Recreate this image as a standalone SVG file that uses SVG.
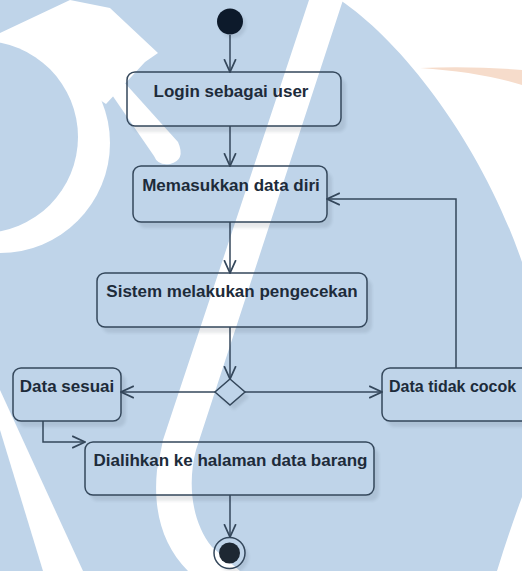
<svg xmlns="http://www.w3.org/2000/svg" width="522" height="571" viewBox="0 0 522 571">
  <defs>
    <style>
      .act { fill: none; stroke: #34475b; stroke-width: 1.5; }
      .shadow { fill: #1a2a3a; opacity: 0.1; filter: url(#soft); mask: url(#outside); }
      .label { font-family: "Liberation Sans", Arial, sans-serif; font-size: 17px; font-weight: bold; fill: #1d2b3a; text-anchor: middle; }
      .flow { fill: none; stroke: #34475b; stroke-width: 1.5; }
      .wm-blue { fill: #bfd4e9; }
      .wm-white { fill: #ffffff; }
    </style>
    <filter id="soft" x="-10%" y="-10%" width="130%" height="140%">
      <feGaussianBlur stdDeviation="1.5"/>
    </filter>
    <!-- shadows only show outside the shapes that cast them -->
    <mask id="outside" maskUnits="userSpaceOnUse" x="0" y="0" width="522" height="571">
      <rect x="0" y="0" width="522" height="571" fill="#fff"/>
      <g fill="#000">
        <circle cx="230" cy="21.5" r="13"/>
        <rect x="127" y="72" width="214" height="54" rx="8"/>
        <rect x="133" y="166" width="194" height="56" rx="8"/>
        <rect x="97" y="273" width="270" height="54" rx="8"/>
        <path d="M230,379 L245,392 L230,405 L215,392 Z"/>
        <rect x="13" y="368" width="108" height="53" rx="8"/>
        <rect x="382" y="368" width="152" height="53" rx="8"/>
        <rect x="85" y="442" width="289" height="53" rx="8"/>
        <circle cx="229.5" cy="553" r="15.5"/>
      </g>
    </mask>
    <marker id="open" markerUnits="userSpaceOnUse" markerWidth="14" markerHeight="14" viewBox="0 0 12 12" refX="11" refY="6" orient="auto">
      <path d="M0,1 L11,6 L0,11" fill="none" stroke="#34475b" stroke-width="1.5"/>
    </marker>
  </defs>

  <!-- backdrop artwork -->
  <g id="backdrop">
    <rect x="0" y="0" width="522" height="571" fill="#ffffff"/>
    <path class="wm-blue" d="M0,0 L340,0 C400,40 480,140 522,262 L522,497 Q508,535 497,571 L0,571 Z"/>
    <path d="M420,68 Q475,66 522,70 L522,85 Q480,72 420,68 Z" fill="#f6dccb"/>
    <!-- ring, cap and inner disk -->
    <circle class="wm-white" cx="0" cy="143" r="110"/>
    <path class="wm-white" d="M0,33 L70,0 L110,8 L158,53 L145,62 L106,104 L70,80 L20,60 Z"/>
    <circle class="wm-blue" cx="-18" cy="137" r="96"/>
    <path class="wm-white" d="M112,82 Q118,76 124,82 L178,142 Q186,160 170,164 Q158,166 154,156 L110,92 Q108,86 112,82 Z"/>
    <!-- slanted stroke -->
    <path class="wm-white" d="M309,0 L343,0 L196,450 C188,480 190,520 212,547 L240,571 L188,571 C162,545 153,510 157,470 L163,440 Z"/>
    <!-- lower left band -->
    <path class="wm-white" d="M0,390 L83,571 L43,571 L0,430 Z"/>
  </g>

  <!-- connectors -->
  <g id="connectors">
    <path class="flow" d="M230,35 L230,72" marker-end="url(#open)"/>
    <path class="flow" d="M230,126 L230,166" marker-end="url(#open)"/>
    <path class="flow" d="M230,222 L230,273" marker-end="url(#open)"/>
    <path class="flow" d="M230,327 L230,379" marker-end="url(#open)"/>
    <path class="flow" d="M215,392 L121,392" marker-end="url(#open)"/>
    <path class="flow" d="M245,392 L382,392" marker-end="url(#open)"/>
    <path class="flow" d="M456,368 L456,199 L327,199" marker-end="url(#open)"/>
    <path class="flow" d="M43,421 L43,442 L85,442" marker-end="url(#open)"/>
    <path class="flow" d="M230,495 L230,537" marker-end="url(#open)"/>
  </g>

  <g id="start">
    <circle class="shadow" cx="233" cy="25" r="13"/>
    <circle cx="230" cy="21.5" r="13" fill="#0d1a2b"/>
  </g>

  <g id="login">
    <rect class="shadow" x="132" y="78" width="214" height="54" rx="8"/>
    <rect class="act" x="127" y="72" width="214" height="54" rx="8"/>
    <text class="label" x="231" y="96.5">Login sebagai user</text>
  </g>

  <g id="input-data">
    <rect class="shadow" x="138" y="172" width="194" height="56" rx="8"/>
    <rect class="act" x="133" y="166" width="194" height="56" rx="8"/>
    <text class="label" x="231" y="190.5">Memasukkan data diri</text>
  </g>

  <g id="check">
    <rect class="shadow" x="102" y="279" width="270" height="54" rx="8"/>
    <rect class="act" x="97" y="273" width="270" height="54" rx="8"/>
    <text class="label" x="232" y="297">Sistem melakukan pengecekan</text>
  </g>

  <g id="decision">
    <path class="shadow" d="M234,384 L249,397 L234,410 L219,397 Z"/>
    <path d="M230,379 L245,392 L230,405 L215,392 Z" fill="none" stroke="#34475b" stroke-width="1.5"/>
  </g>

  <g id="match">
    <rect class="shadow" x="18" y="374" width="108" height="53" rx="8"/>
    <rect class="act" x="13" y="368" width="108" height="53" rx="8"/>
    <text class="label" x="67" y="392">Data sesuai</text>
  </g>

  <g id="mismatch">
    <rect class="shadow" x="387" y="374" width="152" height="53" rx="8"/>
    <rect class="act" x="382" y="368" width="152" height="53" rx="8"/>
    <text class="label" x="389" y="392" style="text-anchor:start; font-size:16px">Data tidak cocok</text>
  </g>

  <g id="redirect">
    <rect class="shadow" x="90" y="448" width="289" height="53" rx="8"/>
    <rect class="act" x="85" y="442" width="289" height="53" rx="8"/>
    <text class="label" x="230.5" y="465.5">Dialihkan ke halaman data barang</text>
  </g>

  <g id="end">
    <circle class="shadow" cx="233" cy="557" r="15.5"/>
    <circle cx="229.5" cy="553" r="15.5" fill="none" stroke="#34475b" stroke-width="1.5"/>
    <circle cx="229.5" cy="553" r="10.5" fill="#1e2833"/>
  </g>
</svg>
